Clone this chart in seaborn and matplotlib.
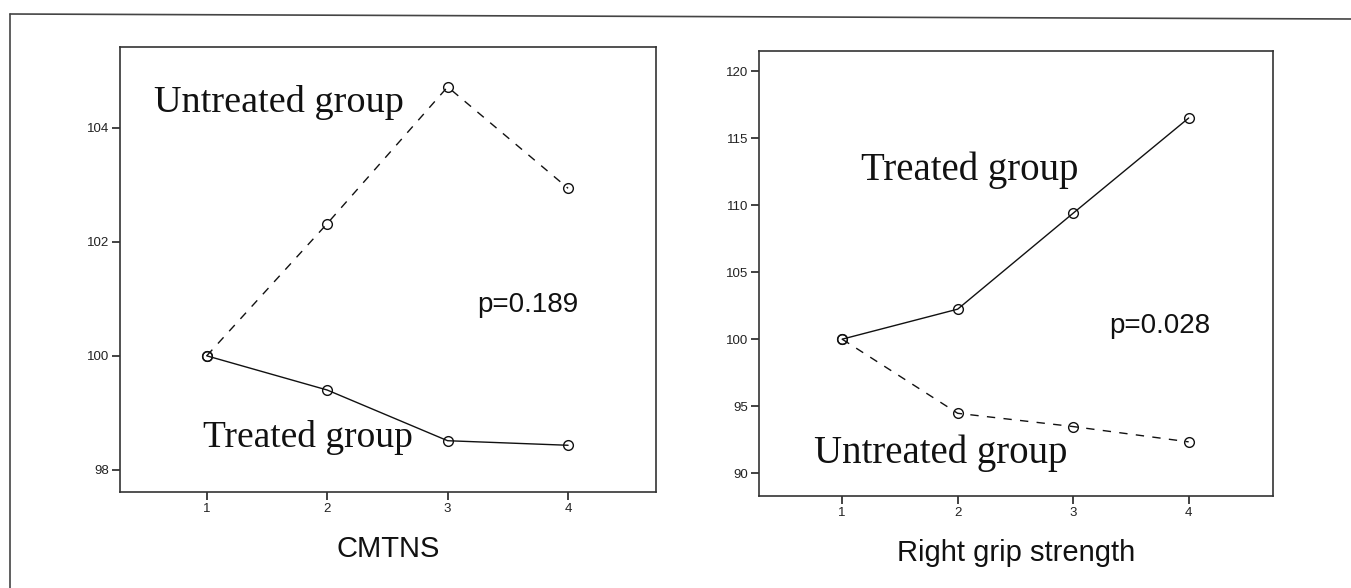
import matplotlib
matplotlib.use("Agg")
import matplotlib.pyplot as plt
from matplotlib.lines import Line2D
import seaborn as sns
import pandas as pd

# ---- data ----
visits = [1, 2, 3, 4]
cmtns_treated = [100.0, 99.40, 98.51, 98.43]
cmtns_untreated = [100.0, 102.32, 104.72, 102.94]
grip_treated = [100.0, 102.24, 109.4, 116.5]
grip_untreated = [100.0, 94.47, 93.48, 92.34]
cmtns_yticks = [98, 100, 102, 104]
grip_yticks = [90, 95, 100, 105, 110, 115, 120]
xlabels = ["CMTNS", "Right grip strength"]
pvalues = ["p=0.189", "p=0.028"]

sns.set_style("ticks")
plt.rcParams["font.family"] = ["Liberation Sans", "DejaVu Sans"]

W, H = 1351, 588
fig = plt.figure(figsize=(W / 100, H / 100), dpi=100)
fig.patch.set_facecolor("white")


def fx(px):
    return px / W


def fy(py):
    return 1 - py / H


ax1 = fig.add_axes([fx(120), fy(492), fx(656) - fx(120), fy(47) - fy(492)])
ax2 = fig.add_axes([fx(759), fy(496), fx(1273) - fx(759), fy(51) - fy(496)])

line_kw = dict(color="#111111", marker="o", markersize=7, markerfacecolor="none",
               markeredgecolor="#111111", markeredgewidth=1.0, linewidth=1.0)


def draw(ax, treated, untreated, yticks, ylim, xlabel):
    df_t = pd.DataFrame({"visit": visits, "value": treated})
    df_u = pd.DataFrame({"visit": visits, "value": untreated})
    sns.lineplot(data=df_u, x="visit", y="value", ax=ax, linestyle=(0, (6, 6)), **line_kw)
    sns.lineplot(data=df_t, x="visit", y="value", ax=ax, linestyle="-", **line_kw)
    ax.set_xlim(0.28, 4.73)
    ax.set_ylim(*ylim)
    ax.set_xticks(visits)
    ax.set_xticklabels([str(v) for v in visits])
    ax.set_yticks(yticks)
    ax.set_yticklabels([str(v) for v in yticks])
    ax.tick_params(axis="both", direction="out", length=6, width=1.2, color="#222222",
                   labelsize=9.5, pad=2, labelcolor="#222222")
    for s in ax.spines.values():
        s.set_visible(True)
        s.set_linewidth(1.2)
        s.set_color("#333333")
    ax.set_ylabel("")
    ax.set_xlabel(xlabel, fontsize=21, labelpad=14, color="#111111")
    ax.set_facecolor("white")


draw(ax1, cmtns_treated, cmtns_untreated, cmtns_yticks, (97.61, 105.42), xlabels[0])
draw(ax2, grip_treated, grip_untreated, grip_yticks, (88.3, 121.5), xlabels[1])

serif = ["Liberation Serif", "DejaVu Serif"]
fig.text(fx(154), fy(112), "Untreated group", fontsize=27.5, family=serif, va="baseline", color="#111111")
fig.text(fx(203), fy(447), "Treated group", fontsize=27, family=serif, va="baseline", color="#111111")
fig.text(fx(861), fy(180), "Treated group", fontsize=28, family=serif, va="baseline", color="#111111")
fig.text(fx(814), fy(463), "Untreated group", fontsize=28, family=serif, va="baseline", color="#111111")
fig.text(fx(477), fy(312), pvalues[0], fontsize=20, va="baseline", color="#111111")
fig.text(fx(1109), fy(333), pvalues[1], fontsize=20, va="baseline", color="#111111")

# outer frame (left and top borders)
fig.add_artist(Line2D([fx(10), fx(10)], [fy(14), 0], transform=fig.transFigure, color="#444444", lw=1.2))
fig.add_artist(Line2D([fx(10), 1], [fy(14), fy(19)], transform=fig.transFigure, color="#444444", lw=1.2))

fig.savefig("out.png", dpi=100, facecolor="white")
